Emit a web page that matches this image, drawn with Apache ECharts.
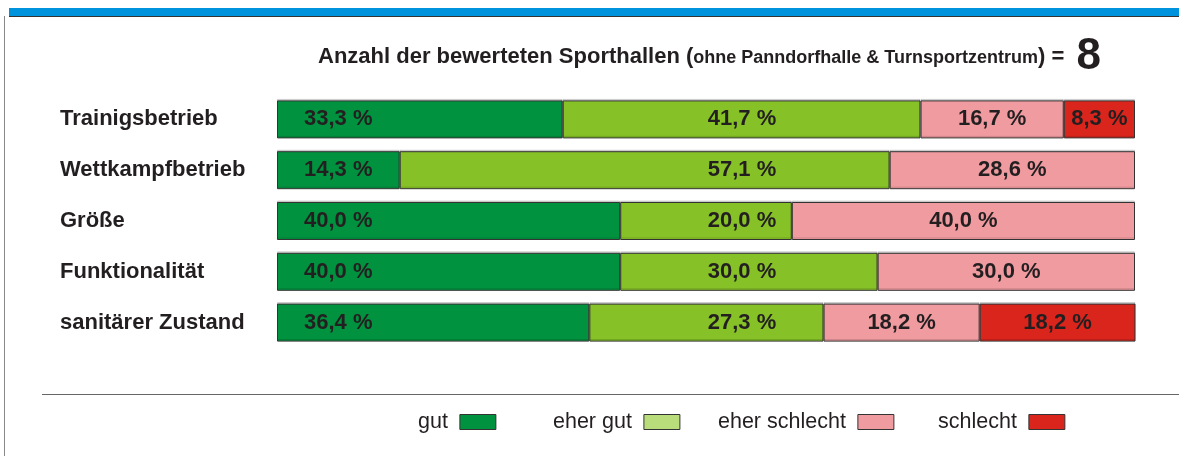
<!DOCTYPE html>
<html><head><meta charset="utf-8">
<script src="https://cdn.jsdelivr.net/npm/echarts@6/dist/echarts.min.js"></script>
<style>html,body{margin:0;padding:0;background:#fff;}#c{width:1179px;height:456px;}</style>
</head><body><div id="c"></div>
<script>
const categories = ['Trainigsbetrieb', 'Wettkampfbetrieb', 'Größe', 'Funktionalität', 'sanitärer Zustand'];
const seriesNames = ['gut', 'eher gut', 'eher schlecht', 'schlecht'];
const gut = [33.3, 14.3, 40.0, 40.0, 36.4];
const eherGut = [41.7, 57.1, 20.0, 30.0, 27.3];
const eherSchlecht = [16.7, 28.6, 40.0, 30.0, 18.2];
const schlecht = [8.3, null, null, null, 18.2];
const hallCount = 8;

const colors = ['#00923F', '#86C127', '#F09BA0', '#DA251D'];
const legendColors = ['#00923F', '#B9DD7B', '#F09BA0', '#DA251D'];
const fmt = p => p.value == null ? '' : p.value.toFixed(1).replace('.', ',') + ' %';
const sans = "'Liberation Sans', Arial, sans-serif";
const labelFont = { fontFamily: sans, fontWeight: 'bold', fontSize: 22, color: '#231F20' };

const chart = echarts.init(document.getElementById('c'));
const values = [gut, eherGut, eherSchlecht, schlecht];
const positions = [ {position: 'insideLeft', distance: 27}, {position: 'inside'}, {position: 'inside'}, {position: 'inside'} ];

function mkSeries(i, data) {
  return {
    name: seriesNames[i], type: 'bar', stack: 'all', barWidth: 38,
    data: data,
    itemStyle: { color: colors[i], borderColor: '#333', borderWidth: 1, shadowColor: 'rgba(0,0,0,0.15)', shadowOffsetY: -1.5, shadowBlur: 0 },
    label: Object.assign({ show: true, formatter: fmt }, labelFont, positions[i]),
    emphasis: { disabled: true }, animation: false
  };
}
const legendLefts = [418, 553, 718, 938];
const option = {
  animation: false,
  grid: { left: 277, right: 44, top: 94, bottom: 108, containLabel: false },
  xAxis: { type: 'value', min: 0, max: 100, show: false },
  yAxis: { type: 'category', data: categories, inverse: true,
    axisLine: { show: false }, axisTick: { show: false }, splitLine: { show: false },
    axisLabel: { align: 'left', margin: 217, fontFamily: sans, fontWeight: 'bold', fontSize: 22, color: '#231F20', padding: [3, 0, 0, 0] } },
  legend: seriesNames.map((n, i) => ({
    left: legendLefts[i], top: 411, padding: 0, align: 'right', icon: 'rect', itemWidth: 36, itemHeight: 15, selectedMode: false,
    data: [{ name: n, itemStyle: { color: legendColors[i], borderColor: '#333', borderWidth: 1, shadowOffsetY: 0, shadowColor: 'transparent' } }],
    textStyle: { fontFamily: sans, fontSize: 21.5, color: '#231F20', padding: [0, 7, 0, 0] }
  })),
  title: {
    left: 318, top: 34, padding: 0,
    text: '{a|Anzahl der bewerteten Sporthallen (}{b|ohne Panndorfhalle & Turnsportzentrum}{a|) =  }{c|' + hallCount + '}',
    textStyle: { rich: {
      a: { fontFamily: sans, fontWeight: 'bold', fontSize: 22, color: '#231F20', verticalAlign: 'middle' },
      b: { fontFamily: sans, fontWeight: 'bold', fontSize: 18, color: '#231F20', verticalAlign: 'middle', padding: [3, 0, 0, 0] },
      c: { fontFamily: sans, fontWeight: 'bold', fontSize: 44, lineHeight: 46, color: '#231F20', verticalAlign: 'middle' }
    } }
  },
  graphic: [
    { type: 'rect', shape: { x: 9, y: 8, width: 1170, height: 8 }, style: { fill: '#0093DD' } },
    { type: 'rect', shape: { x: 9, y: 16, width: 1170, height: 1 }, style: { fill: '#333' } },
    { type: 'rect', shape: { x: 4, y: 16, width: 1, height: 440 }, style: { fill: '#888' } },
    { type: 'rect', shape: { x: 42, y: 394, width: 1137, height: 1 }, style: { fill: '#666' } }
  ],
  series: values.map((d, i) => mkSeries(i, d))
};
chart.setOption(option);

// labels of the second class are aligned on one common column in the reference
const col2X = 742;
const s2data = eherGut.map((v, k) => {
  const start = chart.convertToPixel({ xAxisIndex: 0 }, gut[k]);
  const end = chart.convertToPixel({ xAxisIndex: 0 }, gut[k] + v);
  return { value: v, label: { offset: [col2X - (start + end) / 2, 0] } };
});
chart.setOption({ series: [{}, { data: s2data }] });
</script></body></html>
